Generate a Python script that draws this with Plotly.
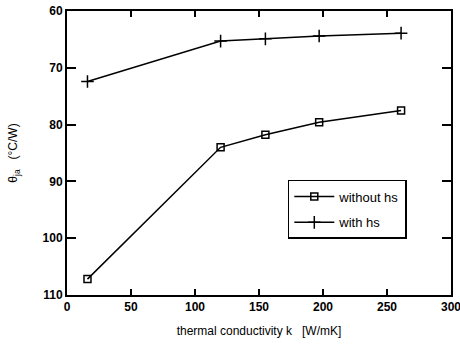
import plotly.graph_objects as go

k_values = [16, 120, 155, 197, 261]
without_hs = [107.2, 84.0, 81.8, 79.6, 77.5]
with_hs = [72.4, 65.3, 64.9, 64.4, 63.9]
x_ticks = [0, 50, 100, 150, 200, 250, 300]
y_ticks = [60, 70, 80, 90, 100, 110]

fig = go.Figure()
fig.add_trace(go.Scatter(
    x=k_values, y=without_hs, mode="lines+markers", name="without hs",
    legendgroup="a",
    line=dict(color="black", width=1.5),
    marker=dict(symbol="square-open", size=7, color="black", line=dict(width=1.5)),
))
fig.add_trace(go.Scatter(
    x=k_values, y=with_hs, mode="lines+markers", name="with hs",
    legendgroup="b",
    line=dict(color="black", width=1.5),
    marker=dict(symbol="cross-thin-open", size=9, color="black", line=dict(width=1.5, color="black")),
))

axis_common = dict(
    showgrid=False, zeroline=False, showline=True, linecolor="black", linewidth=2,
    mirror="ticks", ticks="inside", tickcolor="black", tickwidth=1.5, automargin=False,
    ticklabeloverflow="allow",
    tickfont=dict(family="Liberation Sans, Arial", size=12, color="black", weight="bold"),
)

fig.update_xaxes(range=[0, 300], tickvals=x_ticks, ticklen=6,
                 title=dict(text="thermal conductivity k   [W/mK]",
                            font=dict(family="Liberation Sans, Arial", size=12, color="black"),
                            standoff=13),
                 **axis_common)
fig.update_yaxes(range=[110, 60], tickvals=y_ticks, ticklen=9,
                 title=dict(text="θ<sub>ja</sub>   (°C/W)",
                            font=dict(family="Liberation Sans, Arial", size=12, color="black"),
                            standoff=22),
                 **axis_common)

fig.update_layout(
    width=460, height=347,
    margin=dict(l=67, r=9, t=11, b=52, autoexpand=False),
    paper_bgcolor="white", plot_bgcolor="white",
    showlegend=True,
    legend=dict(x=0.575, y=0.405, xanchor="left", yanchor="top",
                bordercolor="black", borderwidth=1.5, bgcolor="white",
                font=dict(family="Liberation Sans, Arial", size=13, color="black"),
                tracegroupgap=6, itemwidth=40),
)

fig.write_html("out.html", config={"displayModeBar": False},
               post_script="document.body.style.margin='0';")
